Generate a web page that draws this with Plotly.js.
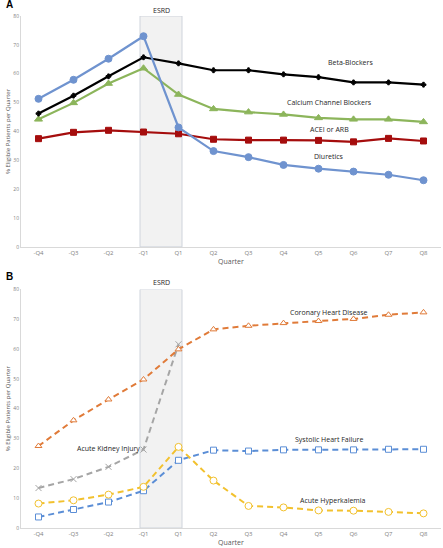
<!DOCTYPE html>
<html><head><meta charset="utf-8">
<script src="https://cdn.plot.ly/plotly-3.0.1.min.js"></script>
<style>html,body{margin:0;padding:0;background:#fff}#c{width:443px;height:548px}</style>
</head><body><div id="c"></div>
<script>
const quarters = ["-Q4","-Q3","-Q2","-Q1","Q1","Q2","Q3","Q4","Q5","Q6","Q7","Q8"];
// Panel A
const diuretics = [51.3,57.9,65.2,73.0,41.4,33.2,31.1,28.4,27.1,26.1,25.0,23.1];
const betaBlockers = [46.2,52.4,59.1,65.7,63.6,61.2,61.2,59.8,58.8,57.0,57.0,56.2];
const ccb = [44.2,49.9,56.6,61.9,52.8,47.8,46.7,45.9,44.7,44.2,44.2,43.3];
const aceiArb = [37.5,39.7,40.4,39.8,39.2,37.3,37.0,37.0,36.9,36.4,37.6,36.7];
// Panel B
const chd = [27.5,36.1,43.1,49.8,59.9,66.6,67.8,68.7,69.4,70.1,71.5,72.3];
const aki = [13.4,16.4,20.5,26.3,61.6];
const shf = [3.7,6.2,8.7,12.5,22.7,26.1,25.8,26.2,26.2,26.2,26.4,26.4];
const hyperK = [8.2,9.3,11.2,13.8,27.2,15.9,7.4,6.9,5.9,5.8,5.4,4.9];
const yTicks = [0,10,20,30,40,50,60,70,80];

const font = "Open Sans, Liberation Sans, sans-serif";
function solid(y, color, sym, size, xa, ya){
  return {x: quarters.slice(0,y.length), y, type:'scatter', mode:'lines+markers', xaxis:xa, yaxis:ya,
    line:{color, width:2.2}, marker:{symbol:sym, size, color, line:{color, width:1}}, showlegend:false, hoverinfo:'skip'};
}
function dashed(y, color, sym, size, xa, ya){
  return {x: quarters.slice(0,y.length), y, type:'scatter', mode:'lines+markers', xaxis:xa, yaxis:ya,
    line:{color, width:2, dash:'6px,4px'}, marker:{symbol:sym, size, color:'#ffffff', line:{color, width:1}}, showlegend:false, hoverinfo:'skip'};
}
const traces = [
  solid(aceiArb, '#a50d0d', 'square', 6, 'x', 'y'),
  solid(ccb, '#8cb55b', 'triangle-up', 7, 'x', 'y'),
  solid(betaBlockers, '#000000', 'cross', 4, 'x', 'y'),
  solid(diuretics, '#6f93cf', 'circle', 7, 'x', 'y'),
  dashed(aki, '#a5a5a5', 'x-thin-open', 6, 'x2', 'y2'),
  dashed(shf, '#5b8ed6', 'square', 6, 'x2', 'y2'),
  dashed(hyperK, '#f2c12e', 'circle', 7, 'x2', 'y2'),
  dashed(chd, '#e07b39', 'triangle-up', 6, 'x2', 'y2'),
];
// x-thin-open needs marker color as stroke
traces[4].marker.color = '#a5a5a5';
const xax = (anchor)=>({anchor, type:'category', categoryorder:'array', categoryarray:quarters, range:[-0.5,11.5],
  showgrid:false, zeroline:false, showline:true, linecolor:'#d9d9d9', linewidth:1, ticks:'',
  tickfont:{size:6, color:'#7f7f7f', family:font}, fixedrange:true,
  title:{text:'Quarter', font:{size:7, color:'#595959', family:font}, standoff:2}});
const yax = (anchor, domain)=>({anchor, domain, range:[0,80], tickvals:yTicks, showgrid:false, zeroline:false,
  showline:true, linecolor:'#d9d9d9', linewidth:1, ticks:'', tickfont:{size:5, color:'#7f7f7f', family:font},
  title:{text:'% Eligible Patients per Quarter', font:{size:6, color:'#595959', family:font}, standoff:2}});
const lbl = (text, x, y, xref, yref)=>({text, x, y, xref, yref, showarrow:false, font:{size:7, color:'#262626', family:font}});
const layout = {
  width:443, height:548, margin:{l:21, r:2, t:16, b:20}, paper_bgcolor:'#fff', plot_bgcolor:'#fff',
  font:{family:font},
  xaxis: xax('y'), yaxis: yax('x',[0.549,1]),
  xaxis2: xax('y2'), yaxis2: yax('x2',[0,0.466]),
  shapes:[
    {type:'rect', xref:'x', yref:'y', x0:2.9, x1:4.1, y0:0, y1:80, fillcolor:'#f2f2f2', line:{color:'#cfd4dc', width:1}, layer:'below'},
    {type:'rect', xref:'x2', yref:'y2', x0:2.9, x1:4.1, y0:0, y1:80, fillcolor:'#f2f2f2', line:{color:'#cfd4dc', width:1}, layer:'below'},
  ],
  annotations:[
    {text:'<b>A</b>', x:(4-21)/420, y:1 + (16-4)/512, xref:'paper', yref:'paper', showarrow:false, font:{size:10,color:'#000',family:'Liberation Sans'}, xanchor:'left', yanchor:'middle'},
    {text:'<b>B</b>', x:(4-21)/420, y:(528-276)/512, xref:'paper', yref:'paper', showarrow:false, font:{size:10,color:'#000',family:'Liberation Sans'}, xanchor:'left', yanchor:'middle'},
    {text:'ESRD', x:3.5, y:(528-10)/512, xref:'x', yref:'paper', showarrow:false, yanchor:'middle', font:{size:7, color:'#262626', family:font}},
    {text:'ESRD', x:3.5, y:(528-282)/512, xref:'x2', yref:'paper', showarrow:false, yanchor:'middle', font:{size:7, color:'#262626', family:font}},
    lbl('Beta-Blockers', 8.9, 64, 'x', 'y'),
    lbl('Calcium Channel Blockers', 8.3, 50, 'x', 'y'),
    lbl('ACEI or ARB', 8.3, 40.8, 'x', 'y'),
    lbl('Diuretics', 8.3, 31.4, 'x', 'y'),
    lbl('Coronary Heart Disease', 8.3, 72.3, 'x2', 'y2'),
    lbl('Acute Kidney Injury', 2.0, 26.8, 'x2', 'y2'),
    lbl('Systolic Heart Failure', 8.3, 29.6, 'x2', 'y2'),
    lbl('Acute Hyperkalemia', 8.4, 9.2, 'x2', 'y2'),
  ]
};
Plotly.newPlot('c', traces, layout, {staticPlot:true, displayModeBar:false});
</script></body></html>
